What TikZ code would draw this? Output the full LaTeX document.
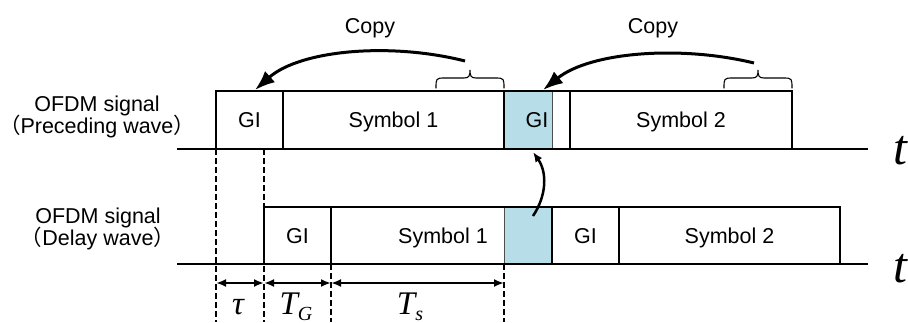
\documentclass[tikz,border=0pt]{standalone}
\usepackage{fontspec}
\setmainfont{Liberation Sans}
\newfontfamily\timesfam{Liberation Serif}
\newfontfamily\cjkfam{Noto Sans CJK SC}
\usetikzlibrary{arrows.meta}
\definecolor{gishade}{HTML}{B7DDE8}
\definecolor{thinedge}{HTML}{4D4D4D}
% curly brace opening upwards: \copybracepath{left x}{tip x}{right x}
\newcommand\copybracepath[3]{%
  \draw[bracestroke] (#1,88) .. controls (#1,79) and (#1,78) .. ({#1+8},78)
    -- ({#2-6},78) .. controls ({#2-1},78) and (#2,76) .. (#2,70)
    .. controls (#2,76) and ({#2+1},78) .. ({#2+6},78)
    -- ({#3-8},78) .. controls (#3,78) and (#3,79) .. (#3,88);}
\begin{document}
\begin{tikzpicture}[x=1pt,y=-1pt,
  lbl/.style={font=\fontsize{21.5}{22}\selectfont, inner sep=0, anchor=base},
  boxline/.style={line width=2.9pt},
  thinline/.style={line width=1pt, draw=thinedge},
  guideline/.style={line width=1.8pt, dash pattern=on 6pt off 3pt},
  dimarrow/.style={line width=2pt, {Latex[length=10pt,width=8pt]}-{Latex[length=10pt,width=8pt]}},
  copyarrow/.style={line width=3pt, -{Latex[length=20pt,width=15pt]}},
  bracestroke/.style={line width=1.1pt, line cap=round},
  mathlbl/.style={font=\timesfam\itshape\fontsize{33}{33}\selectfont, inner sep=0, anchor=base},
  taxis/.style={font=\timesfam\itshape\fontsize{50}{50}\selectfont, inner sep=0, anchor=base}]
\useasboundingbox (0,0) rectangle (908,322);

% ---- preceding wave ----
\fill[gishade] (504,91) rectangle (552,149);
\draw[thinline] (552,91) -- (552,149);
\draw[boxline] (216,149) -- (216,91) -- (792,91) -- (792,149);
\draw[boxline] (283,91) -- (283,149);
\draw[boxline] (504,91) -- (504,149);
\draw[boxline] (570,91) -- (570,149);
\draw[boxline] (177,149) -- (868,149);

\node[lbl] (gia) at (249.5,127.7) {GI};
\node[lbl] (syma) at (393.5,127.7) {Symbol 1};
\node[lbl] (gib) at (537,127.7) {GI};
\node[lbl] (symb) at (681,127.7) {Symbol 2};

\node[lbl] (siga1) at (97,111) {OFDM signal};
\node[lbl] (siga2) at (97,133) {{\cjkfam （}Preceding wave{\cjkfam ）}};
\node[taxis] (ta) at (900,164) {t};

% ---- delay wave ----
\fill[gishade] (504,207) rectangle (552,264);
\draw[thinline] (504,207) -- (504,264);
\draw[boxline] (264,264) -- (264,207) -- (840,207) -- (840,264);
\draw[boxline] (331,207) -- (331,264);
\draw[boxline] (552,207) -- (552,264);
\draw[boxline] (619,207) -- (619,264);
\draw[boxline] (177,264) -- (868,264);

\node[lbl] (gic) at (297.5,243) {GI};
\node[lbl] (symc) at (443,243) {Symbol 1};
\node[lbl] (gid) at (585.5,243) {GI};
\node[lbl] (symd) at (729.5,243) {Symbol 2};

\node[lbl] (sigb1) at (98,223) {OFDM signal};
\node[lbl] (sigb2) at (98,245) {{\cjkfam （}Delay wave{\cjkfam ）}};
\node[taxis] (tb) at (900,282) {t};

% ---- timing guides ----
\draw[guideline] (216,149) -- (216,322);
\draw[guideline] (264,149) -- (264,322);
\draw[guideline] (331,264) -- (331,322);
\draw[guideline] (504,264) -- (504,322);

\coordinate (d0) at (216,283);
\coordinate (d1) at (264,283);
\coordinate (d2) at (331,283);
\coordinate (d3) at (504,283);
\draw[dimarrow] (d0) -- (d1);
\draw[dimarrow] (d1) -- (d2);
\draw[dimarrow] (d2) -- (d3);

\node[mathlbl] (tau) at (238,314) {τ};
\node[mathlbl] (tg) at (296,314) {T\raisebox{-6pt}{\fontsize{20}{20}\selectfont G}};
\node[mathlbl] (ts) at (410,314) {T\raisebox{-6pt}{\fontsize{20}{20}\selectfont s}};

% ---- copy braces and arrows ----
\copybracepath{436}{470}{504}
\copybracepath{724}{758}{792}

\coordinate (c1s) at (465,61);
\coordinate (c1e) at (255,90);
\coordinate (c2s) at (754,63);
\coordinate (c2e) at (543,90);
\draw[copyarrow] (c1s) .. controls (390,42) and (300,50) .. (c1e);
\draw[copyarrow] (c2s) .. controls (680,45) and (590,52) .. (c2e);
\node[lbl] (copya) at (370,33) {Copy};
\node[lbl] (copyb) at (653,33) {Copy};

\coordinate (va) at (533,216);
\coordinate (vb) at (533,152);
\draw[line width=2.5pt, -{Latex[length=10pt,width=8pt]}] (va) .. controls (547,195) and (547,172) .. (vb);
\end{tikzpicture}
\end{document}
